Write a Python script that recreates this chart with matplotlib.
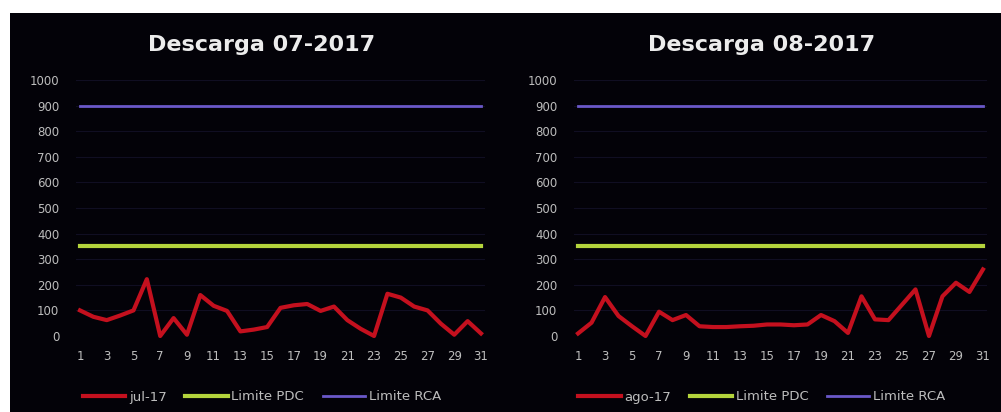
import matplotlib.pyplot as plt
from matplotlib.patches import Rectangle
import numpy as np

days = list(range(1, 32))
jul_17 = [100, 75, 62, 80, 100, 222, 0, 70, 5, 160, 118, 98, 18, 25, 35,
          110, 120, 125, 98, 115, 62, 28, 0, 165, 150, 115, 100, 48, 5, 58, 10]
ago_17 = [10, 52, 152, 78, 38, 0, 95, 62, 82, 38, 35, 35, 38, 40, 45, 45,
          42, 45, 82, 58, 12, 155, 65, 62, 122, 182, 0, 155, 208, 172, 260]
limite_pdc = 350
limite_rca = 900
titles = ["Descarga 07-2017", "Descarga 08-2017"]
series_names = ["jul-17", "ago-17"]
yticks = list(range(0, 1001, 100))
xticks = list(range(1, 32, 2))

red = "#c4101e"
green = "#b4d43c"
purple = "#6a58c8"
txt = "#bdbdbd"

fig = plt.figure(figsize=(10.01, 4.12), dpi=100)
fig.patch.set_facecolor("white")
# black chart area like the pasted excel picture
fig.patches.append(Rectangle((10 / 1001, 0), 991 / 1001, 399 / 412,
                             transform=fig.transFigure, facecolor="#030208",
                             edgecolor="none", zorder=-10))

# pixel boxes of the two plot areas (left, right, bottom, top)
boxes = [(76, 485, 76, 332), (574, 987, 76, 332)]
centers = [262, 762]

for i, data in enumerate([jul_17, ago_17]):
    l, r, b, t = boxes[i]
    ax = fig.add_axes([l / 1001, b / 412, (r - l) / 1001, (t - b) / 412])
    ax.set_facecolor("none")
    for s in ax.spines.values():
        s.set_visible(False)
    ax.set_xlim(0.7, 31.3)
    ax.set_ylim(0, 1000)
    ax.set_yticks(yticks)
    ax.set_xticks(xticks)
    ax.tick_params(length=0, colors=txt, labelsize=8.5)
    ax.tick_params(axis="y", pad=12)
    ax.tick_params(axis="x", pad=10)
    ax.grid(axis="y", color="#100e22", lw=0.8)
    ax.set_axisbelow(True)

    ax.plot(days, data, color=red, lw=3, label=series_names[i], clip_on=False)
    ax.plot(days, [limite_pdc] * len(days), color=green, lw=3, label="Limite PDC")
    ax.plot(days, [limite_rca] * len(days), color=purple, lw=2, label="Limite RCA")

    fig.text(centers[i] / 1001, 1 - 45 / 412, titles[i], ha="center", va="center",
             fontsize=16, fontweight="bold", color="#ececec")

    h, lab = ax.get_legend_handles_labels()
    fig.legend(h, lab, loc="center", bbox_to_anchor=(centers[i] / 1001, 15 / 412),
               ncol=3, frameon=False, fontsize=9.5, labelcolor=txt,
               handlelength=3.2, handletextpad=0.3, columnspacing=1.4)

fig.savefig("out.png", dpi=100, facecolor=fig.get_facecolor())
